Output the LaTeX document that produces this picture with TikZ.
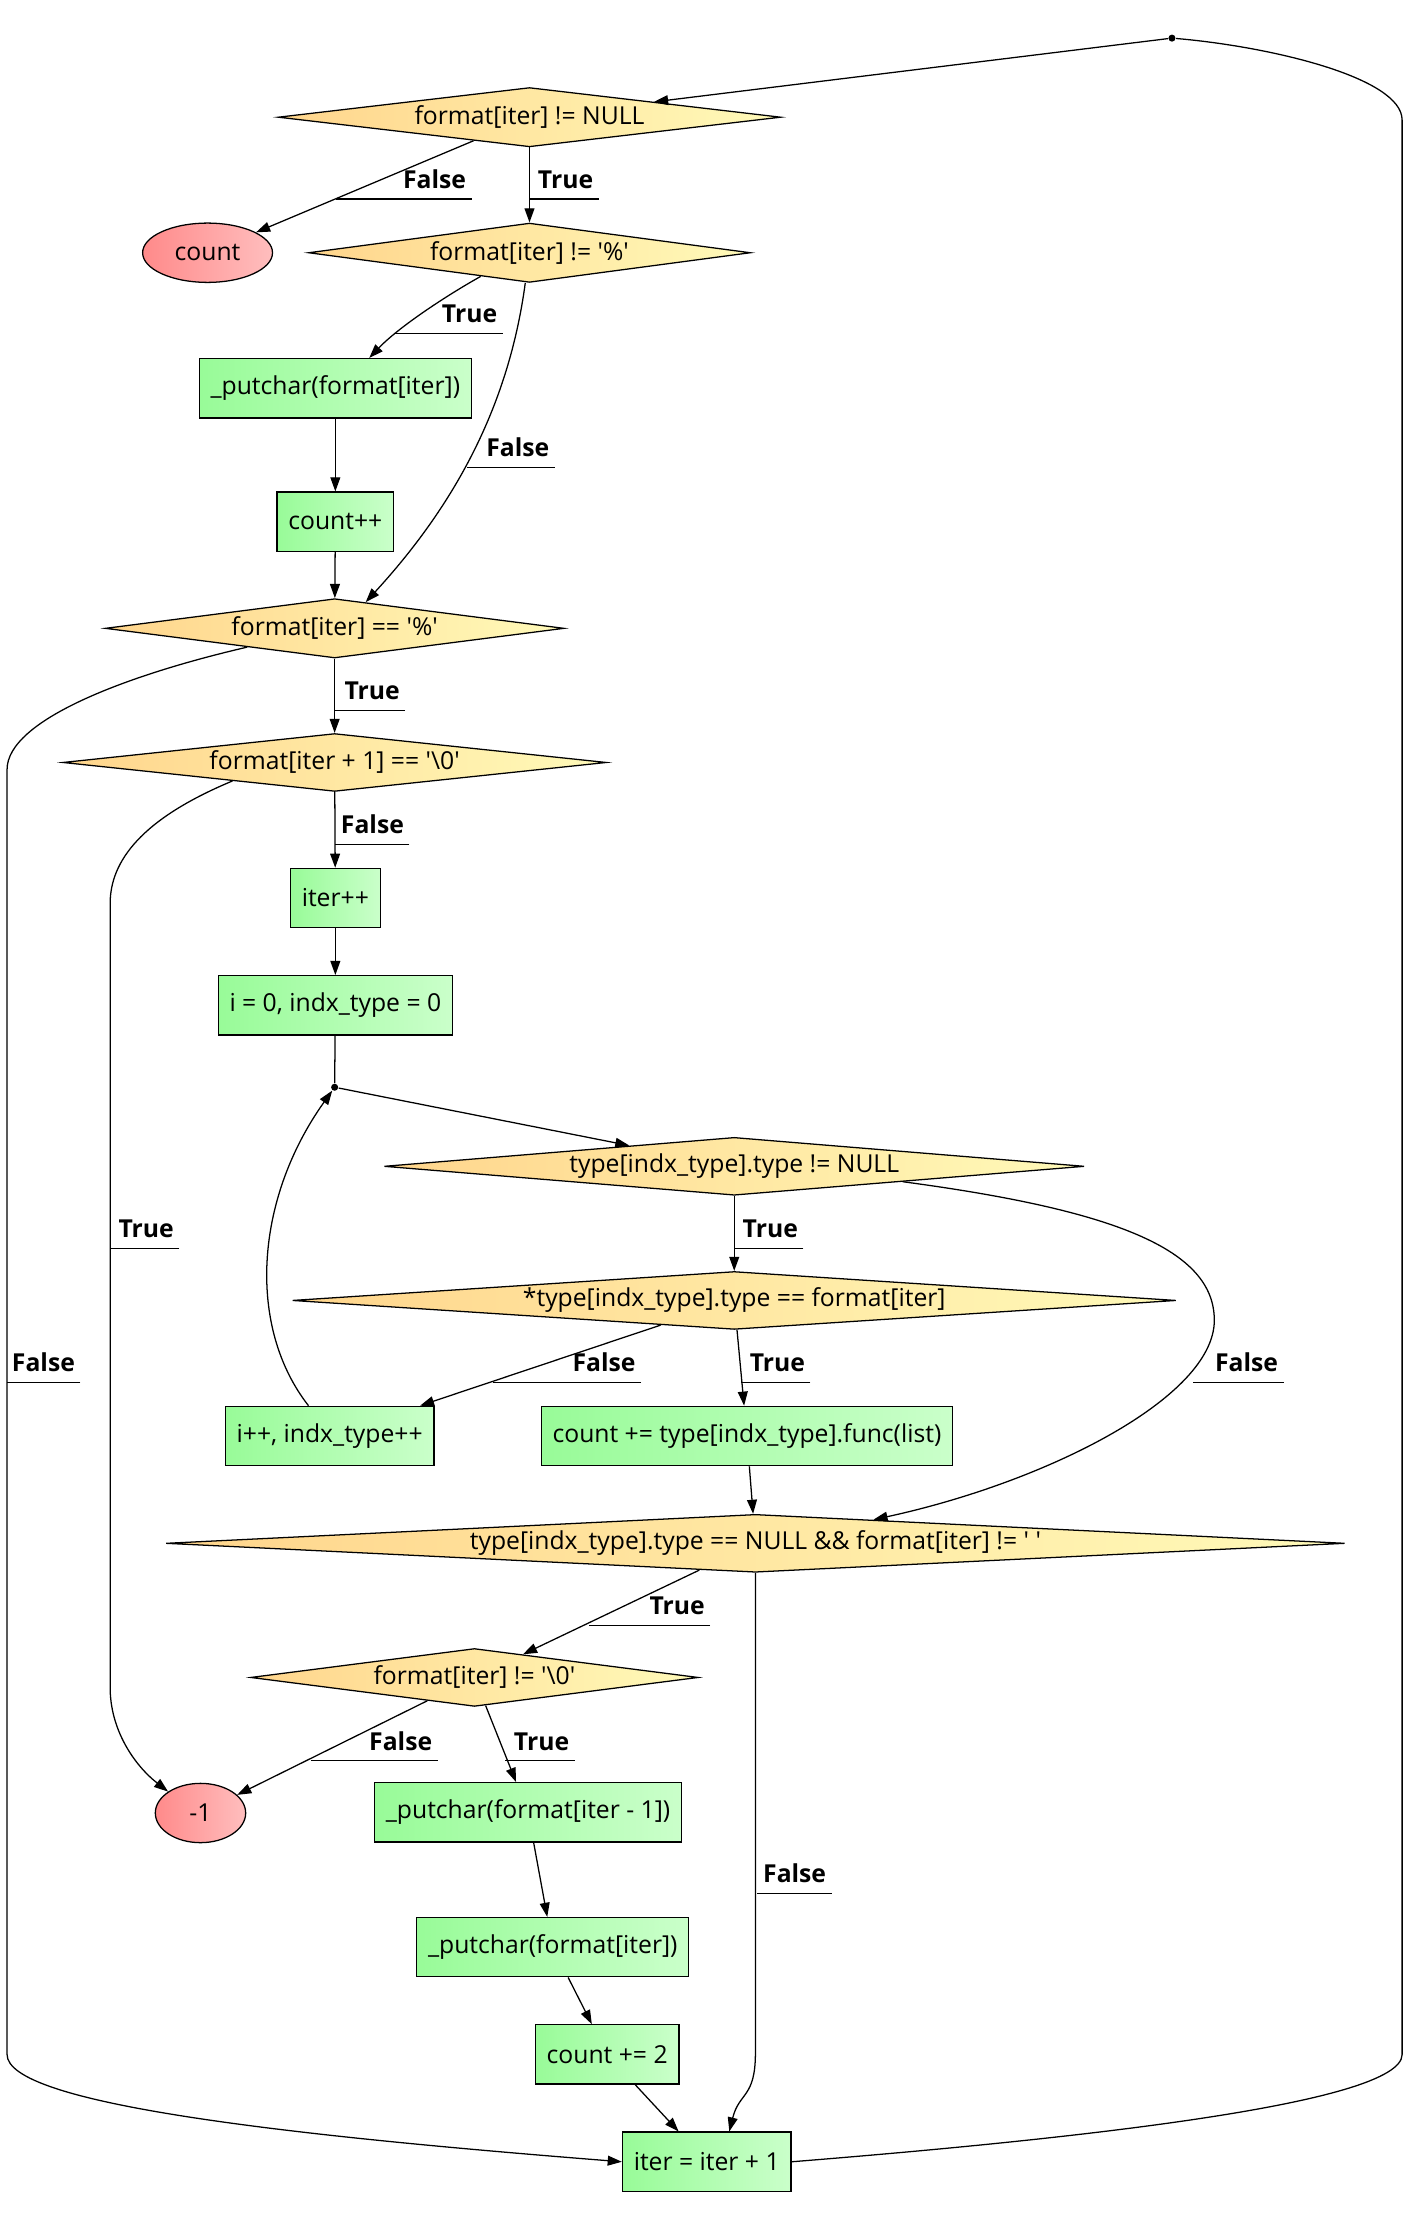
\documentclass[tikz,border=0pt]{standalone}
\usepackage{fontspec}
\setmainfont{Open Sans}
\usetikzlibrary{shapes.geometric, arrows.meta, positioning, calc}

\definecolor{condL}{RGB}{255,213,140}
\definecolor{condR}{RGB}{255,250,185}
\definecolor{actL}{RGB}{152,251,152}
\definecolor{actR}{RGB}{202,255,202}
\definecolor{endL}{RGB}{255,138,138}
\definecolor{endR}{RGB}{255,190,190}
\newcommand{\squote}{\textquotesingle}

\begin{document}
\begin{tikzpicture}[x=1pt, y=-1pt, >={Triangle[length=10pt,width=7pt]}, line width=0.9pt,
    every node/.style={font=\fontsize{17.5}{21}\selectfont},
    cond/.style={diamond, draw, inner sep=0pt, left color=condL, right color=condR},
    act/.style={rectangle, draw, inner xsep=8pt, minimum height=42pt, left color=actL, right color=actR},
    endpt/.style={ellipse, draw, inner sep=0pt, minimum height=42pt, left color=endL, right color=endR},
    junc/.style={circle, fill, inner sep=0pt, minimum size=5pt},
    lbl/.style={font=\fontsize{17.5}{21}\selectfont\bfseries, inner xsep=3.5pt, inner ysep=7pt, anchor=south east}]
        \useasboundingbox (0,0) rectangle (1009,1568);

        % Outer loop
        \node[junc] (top) at (830,27) {};
        \node[cond, minimum width=356pt, minimum height=42pt, aspect=8.5] (d1) at (375,83) {format[iter] != NULL};
        \node[endpt, minimum width=92pt] (count) at (147,179) {count};
        \node[cond, minimum width=313pt, minimum height=42pt, aspect=7.5] (d2) at (375,179) {format[iter] != \squote\%\squote};
        \node[act] (p1) at (237.5,275) {\_putchar(format[iter])};
        \node[act] (c1) at (237.5,369.5) {count++};
        \node[cond, minimum width=325pt, minimum height=42pt, aspect=7.7] (d3) at (237,445) {format[iter] == \squote\%\squote};
        \node[cond, minimum width=385pt, minimum height=41pt, aspect=9.4] (d4) at (237,540) {format[iter + 1] == \squote\textbackslash 0\squote};
        \node[act] (i1) at (237.5,636) {iter++};
        \node[act] (init) at (237.5,712) {i = 0, indx\_type = 0};

        % Type search loop
        \node[junc] (dot2) at (237,770) {};
        \node[cond, minimum width=496pt, minimum height=41pt, aspect=12.1] (d5) at (520,826) {type[indx\_type].type != NULL};
        \node[cond, minimum width=626pt, minimum height=41pt, aspect=15.3] (d6) at (520,921) {*type[indx\_type].type == format[iter]};
        \node[act] (inc) at (233.5,1017) {i++, indx\_type++};
        \node[act] (add) at (529,1017) {count += type[indx\_type].func(list)};
        \node[cond, minimum width=835pt, minimum height=41pt, aspect=20.4] (d7) at (535,1093) {type[indx\_type].type == NULL \&\& format[iter] != \squote\ \squote};

        % Unknown specifier
        \node[cond, minimum width=317pt, minimum height=41pt, aspect=7.7] (d8) at (336,1188) {format[iter] != \squote\textbackslash 0\squote};
        \node[endpt, minimum width=64pt] (m1) at (142,1284) {-1};
        \node[act] (p2) at (374,1283.5) {\_putchar(format[iter - 1])};
        \node[act] (p3) at (391.5,1379) {\_putchar(format[iter])};
        \node[act] (c2) at (430,1455) {count += 2};
        \node[act] (it) at (500.5,1531) {iter = iter + 1};

        % Edges
        \draw[->] (top) -- (d1);
        \draw[->] (d1) -- (count);
        \node[lbl] (l1) at (334,141) {False};
        \draw (l1.south east) -- ++(-96,0);
        \draw[->] (d1) -- (d2);
        \node[lbl] (l2) at (424,141) {True};
        \draw (l2.south east) -- ++(-49,0);

        \draw[->] ($(d2.south)!.22!(d2.west)$) .. controls (315,210) and (282,232) .. ([xshift=24pt]p1.north);
        \node[lbl] (l3) at (356,236) {True};
        \draw (l3.south east) -- ++(-77,0);
        \draw[->] ([xshift=-3pt]d2.south) .. controls (360,290) and (320,360) .. ($(d3.north)!.135!(d3.east)$);
        \node[lbl] (l4) at (393,331) {False};
        \draw (l4.south east) -- ++(-62,0);

        \draw[->] (p1) -- (c1);
        \draw[->] (c1) -- (d3);

        \draw[->] ($(d3.south)!.38!(d3.west)$) .. controls (90,478) and (5,510) .. (5,545)
            -- (5,1455) .. controls (5,1490) and (200,1512) .. (it.west);
        \node[lbl] (l5) at (57,979) {False};
        \draw (l5.south east) -- ++(-52,0);
        \draw[->] (d3) -- (d4);
        \node[lbl] (l6) at (287,503) {True};
        \draw (l6.south east) -- ++(-50,0);

        \draw[->] ($(d4.south)!.375!(d4.west)$) .. controls (100,580) and (78,610) .. (78,640)
            -- (78,1195) .. controls (78,1225) and (95,1250) .. (m1.north west);
        \node[lbl] (l7) at (127,884) {True};
        \draw (l7.south east) -- ++(-49,0);
        \draw[->] (d4) -- (i1);
        \node[lbl] (l8) at (290,598) {False};
        \draw (l8.south east) -- ++(-53,0);

        \draw[->] (i1) -- (init);
        \draw (init) -- (dot2);
        \draw[->] (dot2) -- (d5);

        \draw[->] (d5) -- (d6);
        \node[lbl] (l9) at (569,884) {True};
        \draw (l9.south east) -- ++(-49,0);
        \draw[->] ($(d5.south)!.48!(d5.east)$) .. controls (790,857) and (860,885) .. (860,935)
            .. controls (860,990) and (740,1050) .. ($(d7.north)!.2!(d7.east)$);
        \node[lbl] (l10) at (909,979) {False};
        \draw (l10.south east) -- ++(-64,0);

        \draw[->] (d6) -- (inc);
        \node[lbl] (l11) at (454,979) {False};
        \draw (l11.south east) -- ++(-105,0);
        \draw[->] (d6) -- (add);
        \node[lbl] (l12) at (574,979) {True};
        \draw (l12.south east) -- ++(-49,0);

        \draw[->] ([xshift=-15pt]inc.north) .. controls (175,940) and (180,850) .. (dot2);
        \draw[->] (add) -- (d7);

        \draw[->] (d7) -- (d8);
        \node[lbl] (l13) at (503,1151) {True};
        \draw (l13.south east) -- ++(-86,0);
        \draw[->] (d7.south) -- ++(0,340) .. controls +(0,32) and +(7,-28) .. ([xshift=16pt]it.north);
        \node[lbl] (l14) at (589,1341) {False};
        \draw (l14.south east) -- ++(-53,0);

        \draw[->] (d8) -- (m1);
        \node[lbl] (l15) at (310,1247) {False};
        \draw (l15.south east) -- ++(-90,0);
        \draw[->] (d8) -- (p2);
        \node[lbl] (l16) at (407,1247) {True};
        \draw (l16.south east) -- ++(-49,0);

        \draw[->] (p2) -- (p3);
        \draw[->] (p3) -- (c2);
        \draw[->] (c2) -- (it);

        \draw (it.east) .. controls (760,1515) and (993,1490) .. (993,1455)
            -- (993,85) .. controls (993,55) and (900,33) .. (top);
    \end{tikzpicture}
\end{document}
